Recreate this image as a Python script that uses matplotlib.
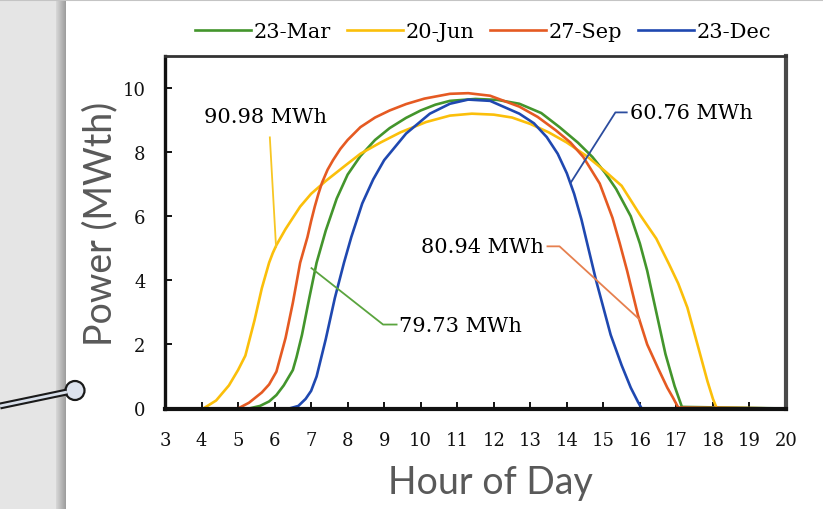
import numpy as np
import matplotlib
matplotlib.use("Agg")
import matplotlib.pyplot as plt
from matplotlib.patches import Circle, Rectangle

# power curves (hour of day, MWth)
hours_mar = [3, 5.3, 5.6, 5.85, 6.05, 6.25, 6.5, 6.6, 6.75, 6.95, 7.15, 7.4, 7.7, 8.0, 8.35, 8.75,
             9.15, 9.6, 10.0, 10.4, 10.8, 11.5, 12.1, 12.7, 13.3, 13.8, 14.3, 14.7, 15.05,
             15.35, 15.75, 16.0, 16.2, 16.45, 16.7, 16.95, 17.15, 20]
power_mar = [0, 0, 0.08, 0.22, 0.42, 0.72, 1.2, 1.6, 2.3, 3.45, 4.55, 5.55, 6.55, 7.3, 7.88, 8.38,
             8.75, 9.07, 9.3, 9.48, 9.6, 9.66, 9.63, 9.51, 9.22, 8.78, 8.3, 7.85, 7.35,
             6.85, 6.0, 5.15, 4.3, 3.0, 1.7, 0.7, 0.05, 0]

hours_jun = [3, 4.05, 4.4, 4.75, 5.0, 5.2, 5.45, 5.65, 5.85, 5.95, 6.05, 6.3, 6.7, 7.0, 7.4, 7.9,
             8.35, 8.9, 9.45, 10.15, 10.8, 11.4, 12.0, 12.5, 13.0, 13.5, 14.0, 14.55, 15.0,
             15.5, 16.0, 16.45, 16.8, 17.05, 17.3, 17.6, 17.85, 18.0, 18.1, 20]
power_jun = [0, 0, 0.25, 0.72, 1.2, 1.65, 2.75, 3.75, 4.55, 4.85, 5.1, 5.6, 6.3, 6.7, 7.1, 7.55,
             7.95, 8.3, 8.62, 8.94, 9.14, 9.2, 9.17, 9.08, 8.88, 8.62, 8.3, 7.87, 7.45,
             6.95, 6.05, 5.3, 4.5, 3.9, 3.15, 1.9, 0.85, 0.3, 0.02, 0]

hours_sep = [3, 5.0, 5.3, 5.65, 5.85, 6.05, 6.3, 6.5, 6.7, 6.9, 7.0, 7.1, 7.2, 7.3, 7.45, 7.6,
             7.8, 8.0, 8.35, 8.75, 9.15, 9.6, 10.1, 10.8, 11.3, 11.9, 12.7, 13.2, 13.7, 14.1,
             14.45, 14.9, 15.25, 15.45, 15.65, 15.95, 16.2, 16.5, 16.75, 16.9, 17.05, 20]
power_sep = [0, 0, 0.18, 0.5, 0.75, 1.15, 2.2, 3.3, 4.55, 5.35, 5.85, 6.3, 6.7, 7.05, 7.45, 7.75,
             8.1, 8.38, 8.78, 9.08, 9.3, 9.5, 9.67, 9.82, 9.84, 9.76, 9.42, 9.1, 8.68, 8.3,
             7.85, 7.02, 5.95, 5.15, 4.3, 2.9, 2.0, 1.25, 0.65, 0.35, 0.03, 0]

hours_dec = [3, 6.4, 6.65, 6.85, 7.0, 7.15, 7.4, 7.65, 7.9, 8.1, 8.4, 8.7, 9.0, 9.6, 10.25,
             10.8, 11.3, 11.9, 12.7, 13.1, 13.45, 13.75, 14.0, 14.2, 14.4, 14.8, 15.2, 15.5,
             15.75, 15.95, 16.05, 20]
power_dec = [0, 0, 0.08, 0.3, 0.55, 1.0, 2.16, 3.45, 4.55, 5.35, 6.4, 7.15, 7.75, 8.58, 9.2,
             9.51, 9.64, 9.6, 9.2, 8.9, 8.47, 7.95, 7.34, 6.7, 5.9, 4.0, 2.3, 1.35,
             0.65, 0.2, 0, 0]

labels = ["23-Mar", "20-Jun", "27-Sep", "23-Dec"]
colors = ["#43952c", "#fbbf0a", "#e55a22", "#1f48b0"]
energy = ["79.73 MWh", "90.98 MWh", "80.94 MWh", "60.76 MWh"]
x_ticks = list(range(3, 21))
y_ticks = [0, 2, 4, 6, 8, 10]

W, H = 823, 510
fig = plt.figure(figsize=(W / 100, H / 100), dpi=100)
fig.patch.set_facecolor("white")

# slide background on the left, with the shadow strip and the callout
bg = fig.add_axes([0, 0, 1, 1])
bg.axis("off")
bg.add_patch(Rectangle((0, 0), 56, H, color="#e5e5e5", lw=0))
shade = np.linspace(0, 1, 50).reshape(1, -1)
bg.imshow(shade, extent=(55, 66, H, 0), cmap=matplotlib.colors.LinearSegmentedColormap.from_list(
    "sh", ["#dedede", "#9c9c9c"]), aspect="auto")
bg.plot([0, W], [0.8, 0.8], color="#c4c4c4", lw=1.5)
bg.plot([0, 67], [407, 393], color="#1a1a1a", lw=5, solid_capstyle="butt")
bg.plot([0, 67], [407, 393], color="#d8dfea", lw=2, solid_capstyle="butt")
bg.add_patch(Circle((75, 391.5), 9.5, facecolor="#dde3ee", edgecolor="#1a1a1a", lw=1.6))
bg.set_xlim(0, W)
bg.set_ylim(H, 0)

ax = fig.add_axes([165 / W, 100.5 / H, 621 / W, 352.5 / H])
ax.set_facecolor("white")

series = [(hours_mar, power_mar), (hours_jun, power_jun), (hours_sep, power_sep), (hours_dec, power_dec)]
lines = []
for (hx, py), c, lab in zip(series, colors, labels):
    ln, = ax.plot(hx, py, color=c, lw=1.9, label=lab, solid_joinstyle="round")
    lines.append(ln)

ax.set_xlim(3, 20)
ax.set_ylim(0, 11)
ax.set_xticks(x_ticks)
ax.set_yticks(y_ticks)
serif = {"family": "DejaVu Serif", "size": 13}
ax.set_xticklabels([str(v) for v in x_ticks], fontdict=serif)
ax.set_yticklabels([str(v) for v in y_ticks], fontdict=serif)
ax.tick_params(direction="in", length=5, width=1.4, colors="#111111")
ax.tick_params(axis="x", pad=16)
ax.tick_params(axis="y", pad=14)
ax.spines["left"].set_linewidth(2.4)
ax.spines["bottom"].set_linewidth(3)
ax.spines["left"].set_color("#111111")
ax.spines["bottom"].set_color("#111111")
ax.spines["top"].set_linewidth(2)
ax.spines["top"].set_color("#333333")
ax.spines["right"].set_linewidth(3)
ax.spines["right"].set_color("#4a4a4a")

# leader lines and daily energy labels
note_font = {"family": "DejaVu Serif", "size": 15}
ax.plot([5.87, 6.04], [8.46, 5.04], color="#f7c623", lw=1.3)
ax.text(5.75, 9.1, energy[1], ha="center", va="center", fontdict=note_font)

ax.plot([14.12, 15.33, 15.64], [7.07, 9.24, 9.24], color="#2b4c9e", lw=1.3)
ax.text(15.72, 9.24, energy[3], ha="left", va="center", fontdict=note_font)

ax.plot([13.47, 13.8, 15.99], [5.06, 5.06, 2.78], color="#e6804f", lw=1.3)
ax.text(13.38, 5.06, energy[2], ha="right", va="center", fontdict=note_font)

ax.plot([7.01, 8.97, 9.34], [4.38, 2.62, 2.62], color="#5aa43e", lw=1.3)
ax.text(9.4, 2.6, energy[0], ha="left", va="center", fontdict=note_font)

fig.legend(handles=lines, labels=labels, loc="center", bbox_to_anchor=(483 / W, 1 - 33 / H),
           ncol=4, frameon=False, prop={"family": "DejaVu Serif", "size": 15},
           handlelength=2.7, handletextpad=0.12, columnspacing=0.75)

fig.text(100 / W, 1 - 224 / H, "Power (MWth)", rotation=90, ha="center", va="center",
         family="Lato", size=27, color="#595959")
fig.text(490 / W, 1 - 483 / H, "Hour of Day", ha="center", va="center",
         family="Lato", size=27, color="#595959")

fig.savefig("out.png", dpi=100)
